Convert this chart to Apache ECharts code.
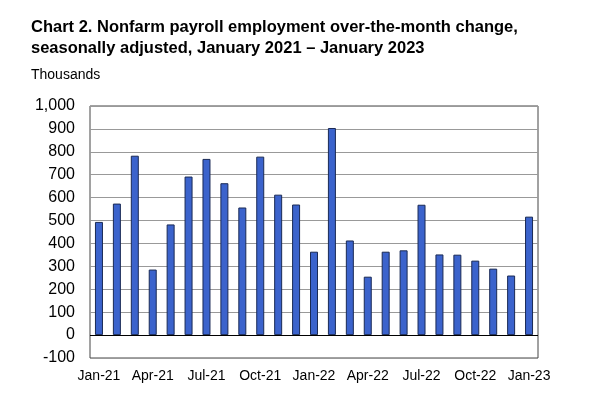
<!DOCTYPE html>
<html>
<head>
<meta charset="utf-8">
<script src="https://cdn.jsdelivr.net/npm/echarts@6/dist/echarts.min.js"></script>
<style>
  html, body { margin: 0; padding: 0; background: #fff; }
  #chart { width: 600px; height: 399px; }
</style>
</head>
<body>
<div id="chart"></div>
<script>
// months Jan-21 .. Jan-23
var months = ['Jan-21','Feb-21','Mar-21','Apr-21','May-21','Jun-21','Jul-21','Aug-21','Sep-21','Oct-21','Nov-21','Dec-21',
              'Jan-22','Feb-22','Mar-22','Apr-22','May-22','Jun-22','Jul-22','Aug-22','Sep-22','Oct-22','Nov-22','Dec-22','Jan-23'];
// over-the-month change, thousands
var changes = [494, 574, 783, 286, 483, 692, 769, 663, 557, 779, 613, 570,
               364, 904, 413, 255, 364, 370, 569, 352, 351, 325, 290, 260, 517];

var myChart = echarts.init(document.getElementById('chart'));
var option = {
    animation: false,
    backgroundColor: '#fff',
    textStyle: { fontFamily: 'Liberation Sans, Arial, sans-serif' },
    title: [
        {
            text: 'Chart 2. Nonfarm payroll employment over-the-month change,\nseasonally adjusted, January 2021 \u2013 January 2023',
            left: 31, top: 17, padding: 0,
            textStyle: { fontSize: 16.5, fontWeight: 'bold', color: '#000', lineHeight: 21 }
        },
        {
            text: 'Thousands',
            left: 31, top: 68, padding: 0,
            textStyle: { fontSize: 14, fontWeight: 'normal', color: '#000' }
        }
    ],
    grid: {
        left: 90, right: 62, top: 106, bottom: 41,
        show: true, borderColor: '#444', borderWidth: 1
    },
    xAxis: {
        type: 'category',
        data: months,
        axisLine: { show: false },
        axisTick: { show: false },
        axisLabel: { interval: 2, color: '#000', fontSize: 14, margin: 11 }
    },
    yAxis: {
        type: 'value',
        min: -100, max: 1000, interval: 100,
        axisLine: { show: false },
        axisTick: { show: false },
        axisLabel: { color: '#000', fontSize: 16, margin: 15 },
        splitLine: { lineStyle: { color: '#999', width: 1 } }
    },
    series: [{
        type: 'bar',
        data: changes,
        barWidth: 8,
        itemStyle: { color: '#3b63cc', borderColor: '#1a2a55', borderWidth: 1 },
        markLine: {
            silent: true, symbol: 'none',
            label: { show: false },
            lineStyle: { color: '#000', type: 'solid', width: 1 },
            data: [{ yAxis: 0 }]
        }
    }]
};
myChart.setOption(option);
</script>
</body>
</html>
